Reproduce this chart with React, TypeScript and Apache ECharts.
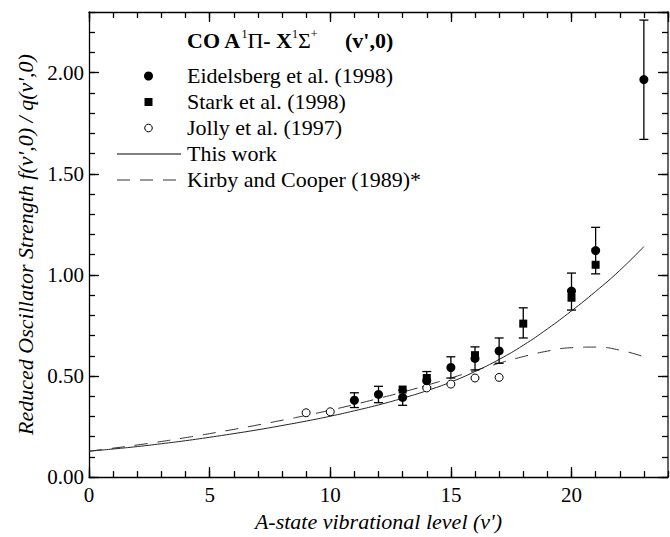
import React, { useEffect, useRef } from "react";
import * as echarts from "echarts";

// Vibrational levels v' and reduced oscillator strengths f(v',0)/q(v',0)
const eidelsbergV = [11, 12, 13, 14, 15, 16, 17, 20, 21, 23];
const eidelsbergF = [0.38, 0.409, 0.394, 0.477, 0.542, 0.587, 0.624, 0.92, 1.12, 1.966];

const starkV = [13, 14, 16, 18, 20, 21];
const starkF = [0.433, 0.49, 0.603, 0.759, 0.887, 1.05];

const jollyV = [9, 10, 14, 15, 16, 17];
const jollyF = [0.318, 0.323, 0.441, 0.46, 0.49, 0.493];

// Error bars: level, lower and upper bound
const errV = [11, 12, 13, 14, 15, 16, 17, 18, 20, 21, 23];
const errLow = [0.344, 0.368, 0.355, 0.445, 0.49, 0.53, 0.563, 0.688, 0.826, 1.005, 1.67];
const errHigh = [0.417, 0.449, 0.43, 0.522, 0.595, 0.644, 0.688, 0.837, 1.009, 1.235, 2.26];

// Model curves
const curveV = [0, 1, 2, 3, 4, 5, 6, 7, 8, 9, 10, 11, 12, 13, 14, 15, 16, 17, 18, 19, 20, 21, 22, 23];
const thisWorkF = [0.128, 0.139, 0.151, 0.165, 0.18, 0.197, 0.215, 0.234, 0.255, 0.277, 0.301, 0.328, 0.357, 0.39, 0.427, 0.47, 0.522, 0.582, 0.652, 0.733, 0.822, 0.918, 1.022, 1.14];
const kirbyF = [0.128, 0.143, 0.159, 0.176, 0.195, 0.215, 0.236, 0.258, 0.281, 0.305, 0.331, 0.359, 0.389, 0.42, 0.454, 0.49, 0.527, 0.563, 0.596, 0.623, 0.64, 0.643, 0.628, 0.595];

// Axis ranges and tick spacing
const xRange = [0, 24];
const yRange = [0, 2.3];
const xMajorStep = 5;
const xMinorStep = 1;
const yMajorStep = 0.5;
const yMinorStep = 0.1;

const legendNames = [
  "Eidelsberg et al. (1998)",
  "Stark et al. (1998)",
  "Jolly et al. (1997)",
  "This work",
  "Kirby and Cooper (1989)*",
];

const SERIF = "'Liberation Serif', 'DejaVu Serif', serif";
const FS = 21;
const FL = 22;

function zip(a: number[], b: number[]) {
  return a.map((v, i) => [v, b[i]]);
}

export default function App() {
  const ref = useRef<HTMLDivElement>(null);

  useEffect(() => {
    if (!ref.current) return;
    const chart = echarts.init(ref.current, undefined, { renderer: "svg" });

    const black = "#000";
    const frameStyle = { color: black, width: 1.3 };
    const tickStyle = { color: black, width: 1.3 };
    const hiddenLine = { show: false, onZero: false };

    // One axis per side draws the frame and the long ticks; an overlaid axis adds the short ticks
    const xAxisOn = (position: string, step: number, len: number, frame: boolean, labelled: boolean) => ({
      type: "value",
      min: xRange[0],
      max: xRange[1],
      interval: step,
      position,
      splitLine: { show: false },
      axisLine: frame ? { show: true, onZero: false, lineStyle: frameStyle } : hiddenLine,
      axisTick: { show: true, inside: true, length: len, lineStyle: tickStyle },
      axisLabel: labelled
        ? {
            show: true,
            showMaxLabel: false,
            formatter: (v: number) => String(v),
            fontFamily: SERIF,
            fontSize: FS,
            color: black,
            margin: 7,
          }
        : { show: false },
    });

    const yAxisOn = (position: string, step: number, len: number, frame: any, labelled: boolean) => ({
      type: "value",
      min: yRange[0],
      max: yRange[1],
      interval: step,
      position,
      splitLine: { show: false },
      axisLine: frame ? { show: true, onZero: false, lineStyle: frame } : hiddenLine,
      axisTick: { show: true, inside: true, length: len, lineStyle: tickStyle },
      axisLabel: labelled
        ? {
            show: true,
            showMaxLabel: false,
            formatter: (v: number) => v.toFixed(2),
            fontFamily: SERIF,
            fontSize: FS,
            color: black,
            margin: 5,
          }
        : { show: false },
    });

    const xAxes = [
      {
        ...xAxisOn("bottom", xMajorStep, 10, true, true),
        name: "A-state vibrational level (v')",
        nameLocation: "middle",
        nameGap: 28,
        nameTextStyle: { fontFamily: SERIF, fontSize: FL, fontStyle: "italic", color: black },
      },
      xAxisOn("bottom", xMinorStep, 6, false, false),
      xAxisOn("top", xMajorStep, 10, true, false),
      xAxisOn("top", xMinorStep, 6, false, false),
    ];

    const yAxes = [
      {
        ...yAxisOn("left", yMajorStep, 10, frameStyle, true),
        name: "Reduced Oscillator Strength f(v',0) / q(v',0)",
        nameLocation: "middle",
        nameGap: 52,
        nameTextStyle: { fontFamily: SERIF, fontSize: FL, fontStyle: "italic", color: black },
      },
      yAxisOn("left", yMinorStep, 6, null, false),
      yAxisOn("right", yMajorStep, 10, { color: "#666", width: 2 }, false),
      yAxisOn("right", yMinorStep, 6, null, false),
    ];

    const errData = errV.map((v, i) => [v, errLow[i], errHigh[i]]);

    // Legend drawn as graphic elements in the upper-left of the plot
    const legendX = 187;
    const rows = [76, 102, 128, 154, 180];
    const graphic: any[] = [
      {
        type: "text",
        left: legendX,
        top: 27,
        style: {
          text: "{b|CO A}{s|1}{g|Π}{b|- X}{s|1}{g|Σ}{s|+}{b|     (v',0)}",
          rich: {
            b: { fontFamily: SERIF, fontSize: FL, fontWeight: "bold", lineHeight: 24, verticalAlign: "bottom" },
            g: { fontFamily: SERIF, fontSize: FL, lineHeight: 24, verticalAlign: "bottom" },
            s: { fontFamily: SERIF, fontSize: 12, lineHeight: 24, verticalAlign: "top", padding: [1, 0, 0, 0] },
          },
          fill: black,
        },
      },
      { type: "circle", shape: { cx: 148.5, cy: rows[0], r: 4.5 }, style: { fill: black } },
      { type: "rect", shape: { x: 144.5, y: rows[1] - 4, width: 8, height: 8 }, style: { fill: black } },
      { type: "circle", shape: { cx: 148.5, cy: rows[2], r: 3.8 }, style: { fill: "#fff", stroke: black, lineWidth: 1 } },
      { type: "line", shape: { x1: 117, y1: rows[3], x2: 181, y2: rows[3] }, style: { stroke: black, lineWidth: 1 } },
      {
        type: "line",
        shape: { x1: 117, y1: rows[4], x2: 181, y2: rows[4] },
        style: { stroke: "#333", lineWidth: 1, lineDash: [13, 10] },
      },
      ...legendNames.map((name, i) => ({
        type: "text",
        left: legendX,
        top: rows[i] - 12,
        style: { text: name, fontFamily: SERIF, fontSize: FL, fill: black },
      })),
    ];

    chart.setOption({
      animation: false,
      backgroundColor: "#fff",
      grid: { left: 89, right: 2, top: 12, bottom: 53, containLabel: false },
      xAxis: xAxes,
      yAxis: yAxes,
      graphic,
      series: [
        {
          name: legendNames[4],
          type: "line",
          data: zip(curveV, kirbyF),
          smooth: true,
          showSymbol: false,
          lineStyle: { color: "#333", width: 1, type: [13, 10] },
          z: 2,
        },
        {
          name: legendNames[3],
          type: "line",
          data: zip(curveV, thisWorkF),
          smooth: true,
          showSymbol: false,
          lineStyle: { color: "#222", width: 1 },
          z: 2,
        },
        {
          type: "custom",
          data: errData,
          renderItem: (params: any, api: any) => {
            const x = api.value(0);
            const lo = api.coord([x, api.value(1)]);
            const hi = api.coord([x, api.value(2)]);
            const cap = 4.5;
            const st = { stroke: black, lineWidth: 1.3 };
            return {
              type: "group",
              children: [
                { type: "line", shape: { x1: lo[0], y1: lo[1], x2: hi[0], y2: hi[1] }, style: st },
                { type: "line", shape: { x1: lo[0] - cap, y1: lo[1], x2: lo[0] + cap, y2: lo[1] }, style: st },
                { type: "line", shape: { x1: hi[0] - cap, y1: hi[1], x2: hi[0] + cap, y2: hi[1] }, style: st },
              ],
            };
          },
          z: 3,
        },
        {
          name: legendNames[2],
          type: "scatter",
          data: zip(jollyV, jollyF),
          symbol: "circle",
          symbolSize: 8,
          itemStyle: { color: "#fff", borderColor: black, borderWidth: 1, opacity: 1 },
          z: 4,
        },
        {
          name: legendNames[1],
          type: "scatter",
          data: zip(starkV, starkF),
          symbol: "rect",
          symbolSize: 8,
          itemStyle: { color: black, opacity: 1 },
          z: 5,
        },
        {
          name: legendNames[0],
          type: "scatter",
          data: zip(eidelsbergV, eidelsbergF),
          symbol: "circle",
          symbolSize: 9,
          itemStyle: { color: black, opacity: 1 },
          z: 6,
        },
      ],
    });

    return () => chart.dispose();
  }, []);

  return (
    <div
      ref={ref}
      style={{ position: "absolute", left: 0, top: 0, width: 670, height: 537, background: "#fff" }}
    />
  );
}
